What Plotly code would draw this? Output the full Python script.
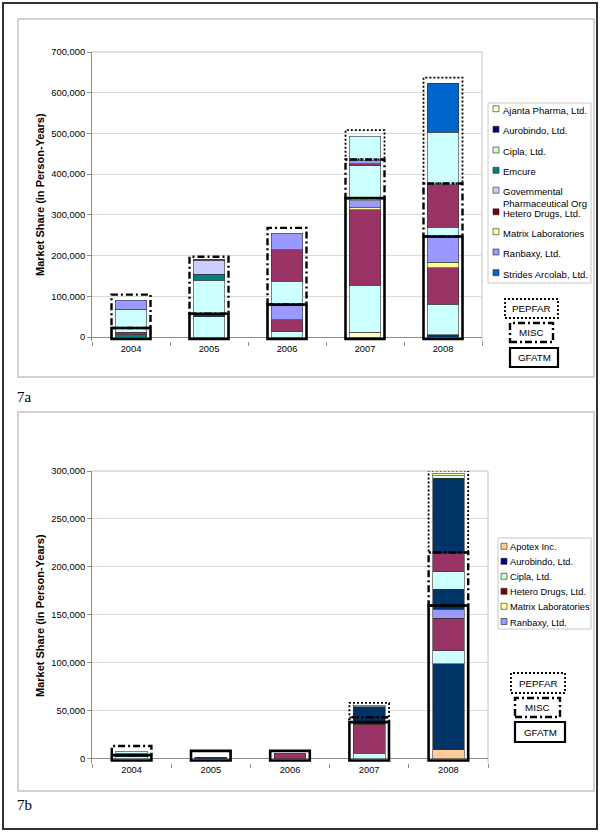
import plotly.graph_objects as go

W, H = 600, 832
years = ["2004", "2005", "2006", "2007", "2008"]

# 7a: stacked segments, bottom to top, per year (company, person-years)
a04 = [("Emcure", 5000), ("Hetero", 7000), ("Cipla", 9000), ("Cipla", 47000), ("Ranbaxy", 22000)]
a05 = [("Cipla", 50000), ("Aurobindo", 4000), ("Cipla", 85000), ("Emcure", 15000),
       ("Gov", 34000), ("Hetero", 3000)]
a06 = [("Cipla", 13000), ("Hetero", 29000), ("Ranbaxy", 36000), ("Cipla", 59000),
       ("Hetero", 77000), ("Ranbaxy", 41000)]
a07 = [("Ajanta", 12000), ("Cipla", 115000), ("Hetero", 186000), ("Matrix", 4000),
       ("Ranbaxy", 18000), ("Cipla", 86000), ("Hetero", 4000), ("Ranbaxy", 8000), ("Cipla", 60000)]
a08 = [("Aurobindo", 6000), ("Cipla", 75000), ("Hetero", 89000), ("Matrix", 13000),
       ("Ranbaxy", 61000), ("Cipla", 26000), ("Hetero", 104000), ("Cipla", 129000),
       ("Strides", 120000)]
# 7a: top of each funding-source outline
a_gfatm = [22000, 57000, 80000, 341000, 247000]
a_misc = [104000, 197000, 268000, 436000, 377000]
a_pepfar = [None, None, None, 508000, 637000]

# 7b
b04 = [("Cipla", 2000), ("Aurobindo", 3000), ("Cipla", 2500)]
b05 = [("Aurobindo", 1200)]
b06 = [("Hetero", 5600)]
b07 = [("Cipla", 5500), ("Hetero", 30000), ("Aurobindo", 18500), ("Cipla", 1500)]
b08 = [("Apotex", 9000), ("Aurobindo", 89700), ("Cipla", 14000), ("Hetero", 33700),
       ("Ranbaxy", 9600), ("Aurobindo", 20600), ("Cipla", 18400), ("Hetero", 19000),
       ("Aurobindo", 78400), ("Cipla", 2600), ("Matrix", 2600)]
b_gfatm = [3500, 8000, 8000, 38000, 159600]
b_misc = [13000, None, None, 43000, 215000]
b_pepfar = [None, None, None, 58000, 300500]

bar_color = {"Ajanta": "#FFFFCC", "Aurobindo": "#003366", "Cipla": "#CCFFFF", "Emcure": "#008080",
             "Gov": "#CCCCFF", "Hetero": "#993366", "Matrix": "#FFFF99", "Ranbaxy": "#9999FF",
             "Strides": "#0066CC", "Apotex": "#FFCC99"}

a_legend = ["Ajanta Pharma, Ltd.", "Aurobindo, Ltd.", "Cipla, Ltd.", "Emcure",
            "Governmental<br>Pharmaceutical Org", "Hetero Drugs, Ltd.", "Matrix Laboratories",
            "Ranbaxy, Ltd.", "Strides Arcolab, Ltd."]
a_legend_col = ["#FFFFCC", "#000080", "#CCFFCC", "#008080", "#CCCCFF", "#800000", "#FFFF99",
                "#9999FF", "#0066CC"]
b_legend = ["Apotex Inc.", "Aurobindo, Ltd.", "Cipla, Ltd.", "Hetero Drugs, Ltd.",
            "Matrix Laboratories", "Ranbaxy, Ltd."]
b_legend_col = ["#FFCC99", "#000080", "#CCFFCC", "#800000", "#FFFF99", "#9999FF"]

FONT = "Liberation Sans, Arial, sans-serif"


def px(x):
    return x / W


def py(y):
    return 1 - y / H


def add_stack(fig, segs, xa, ya):
    n = max(len(s) for s in segs)
    for k in range(n):
        ys = [s[k][1] if k < len(s) else None for s in segs]
        cs = [bar_color[s[k][0]] if k < len(s) else "white" for s in segs]
        fig.add_trace(go.Bar(x=years, y=ys, width=0.4, xaxis=xa, yaxis=ya,
                             marker=dict(color=cs, line=dict(color="#333333", width=0.6)),
                             showlegend=False, hoverinfo="skip"))


def add_boxes(fig, gf, mi, pe, xa, ya, base):
    styles = [("solid", 2.6), ("7px,3px,2px,3px", 2.4), ("2px,2px", 1.8)]
    for i in range(len(years)):
        rects = []
        bottom = base
        for top, st in zip((gf[i], mi[i], pe[i]), styles):
            if top is None:
                continue
            rects.append((bottom, top, st))
            bottom = top
        for b, t, (dash, w) in reversed(rects):
            fig.add_shape(type="rect", xref=xa, yref=ya, x0=i - 0.25, x1=i + 0.25, y0=b, y1=t,
                          line=dict(color="black", width=w, dash=dash))


def add_legend(fig, names, cols, box, x_sw, x_txt, ys, size):
    x0, y0, x1, y1 = box
    fig.add_shape(type="rect", xref="paper", yref="paper", x0=px(x0), x1=px(x1),
                  y0=py(y1), y1=py(y0), line=dict(color="#C8C8C8", width=1), fillcolor="white")
    for name, c, y in zip(names, cols, ys):
        fig.add_shape(type="rect", xref="paper", yref="paper", x0=px(x_sw), x1=px(x_sw + 6),
                      y0=py(y + 3), y1=py(y - 3), fillcolor=c, line=dict(color="#222222", width=0.6))
        fig.add_annotation(x=px(x_txt), y=py(y - 6), xref="paper", yref="paper", text=name,
                           showarrow=False, xanchor="left", yanchor="top", align="left",
                           font=dict(size=size, family=FONT, color="black"))


def add_sources(fig, boxes):
    dashes = {"PEPFAR": ("2px,2px", 1.8), "MISC": ("7px,3px,2px,3px", 2.4), "GFATM": ("solid", 2.2)}
    for label, (x0, y0, x1, y1) in boxes:
        dash, w = dashes[label]
        fig.add_shape(type="rect", xref="paper", yref="paper", x0=px(x0), x1=px(x1),
                      y0=py(y1), y1=py(y0), line=dict(color="black", width=w, dash=dash))
        fig.add_annotation(x=px((x0 + x1) / 2), y=py((y0 + y1) / 2), xref="paper", yref="paper",
                           text=label, showarrow=False, xanchor="center", yanchor="middle",
                           font=dict(size=9.8, family=FONT))


fig = go.Figure()
add_stack(fig, [a04, a05, a06, a07, a08], "x", "y")
add_stack(fig, [b04, b05, b06, b07, b08], "x2", "y2")

a_max, b_max = 700000, 300000
add_boxes(fig, a_gfatm, a_misc, a_pepfar, "x", "y", -0.007 * a_max)
add_boxes(fig, b_gfatm, b_misc, b_pepfar, "x2", "y2", -0.007 * b_max)

# panel frames
fig.add_shape(type="rect", xref="paper", yref="paper", x0=px(3), x1=px(597), y0=py(829), y1=py(3),
              line=dict(color="#333333", width=2))
for top, bot in ((19, 377), (412, 791)):
    fig.add_shape(type="rect", xref="paper", yref="paper", x0=px(18), x1=px(594),
                  y0=py(bot), y1=py(top), line=dict(color="#C4C4C4", width=1.5), layer="below")

# plot-area top/right border
for xr, yr in (("x domain", "y domain"), ("x2 domain", "y2 domain")):
    fig.add_shape(type="line", xref=xr, yref=yr, x0=0, x1=1, y0=1, y1=1,
                  line=dict(color="#C0C0C0", width=1), layer="below")
    fig.add_shape(type="line", xref=xr, yref=yr, x0=1, x1=1, y0=0, y1=1,
                  line=dict(color="#C0C0C0", width=1), layer="below")

add_legend(fig, a_legend, a_legend_col, (488, 103, 591, 283), 493, 501,
           [108.7, 129.3, 150, 170.3, 190.2, 211.8, 231.7, 252, 272.7], 9.5)
add_legend(fig, b_legend, b_legend_col, (498, 538, 591, 629), 501, 508,
           [546.3, 561.3, 576.3, 591.3, 606.3, 621.5], 9.3)

add_sources(fig, [("PEPFAR", (505, 299, 558, 318)), ("MISC", (510, 323, 553, 342)),
                  ("GFATM", (510, 348, 558, 367))])
add_sources(fig, [("PEPFAR", (511, 673, 565, 693)), ("MISC", (515, 698, 560, 717)),
                  ("GFATM", (515, 722, 565, 742))])

for y, lab in ((397, "7a"), (805, "7b")):
    fig.add_annotation(x=px(15), y=py(y), xref="paper", yref="paper", text=lab, showarrow=False,
                       xanchor="left", yanchor="middle",
                       font=dict(size=15, family="Liberation Serif, Times New Roman, serif"))
for y in (195, 616):
    fig.add_annotation(x=px(40), y=py(y), xref="paper", yref="paper",
                       text="<b>Market Share (in Person-Years)</b>", textangle=-90, showarrow=False,
                       xanchor="center", yanchor="middle", font=dict(size=11, family=FONT))


def y_axis(zero_px, top_px, ymax, dtick):
    pad = 0.015 * ymax
    scale = (zero_px - top_px) / ymax
    bottom_px = zero_px + pad * scale
    return dict(domain=[py(bottom_px), py(top_px)], range=[-pad, ymax], tick0=0, dtick=dtick,
                tickformat=",d", showgrid=True, gridcolor="#D9D9D9", gridwidth=1,
                zeroline=True, zerolinecolor="#8C8C8C", zerolinewidth=1,
                showline=True, linecolor="#8C8C8C", linewidth=1, ticks="outside", ticklen=4,
                tickcolor="#8C8C8C", tickfont=dict(size=9.4, family=FONT, color="black"),
                automargin=False, fixedrange=True)


def x_axis(x0, x1, ya):
    return dict(domain=[px(x0), px(x1)], anchor=ya, type="category", showgrid=False,
                showline=False, ticks="outside", ticklen=4, tickcolor="#8C8C8C", tickson="boundaries",
                tickfont=dict(size=9.3, family=FONT, color="black"), automargin=False,
                fixedrange=True)


fig.update_layout(
    width=W, height=H, margin=dict(l=0, r=0, t=0, b=0), barmode="stack", showlegend=False,
    plot_bgcolor="white", paper_bgcolor="white", font=dict(family=FONT, color="black"),
    xaxis=x_axis(92, 482, "y"), yaxis=y_axis(337, 52, a_max, 100000) | dict(anchor="x"),
    xaxis2=x_axis(92, 488, "y2"), yaxis2=y_axis(758.5, 471, b_max, 50000) | dict(anchor="x2"),
)

# the page body has a default 8px margin; remove it so the figure sits at the window origin
fig.write_html("out.html", config={"displayModeBar": False},
               post_script="document.body.style.margin='0';")
